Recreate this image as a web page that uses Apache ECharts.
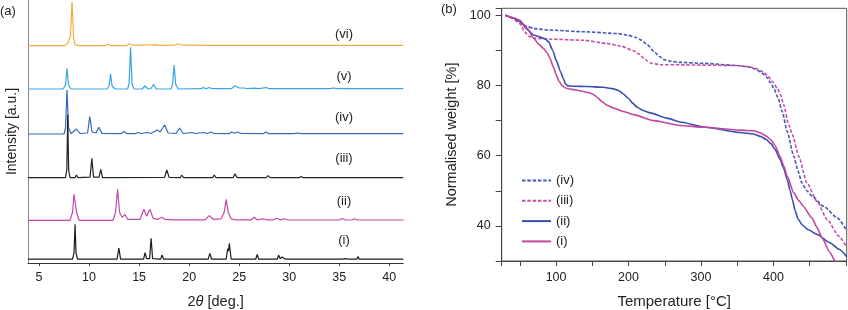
<!DOCTYPE html>
<html>
<head>
<meta charset="utf-8">
<script src="https://cdn.jsdelivr.net/npm/echarts@6.0.0/dist/echarts.min.js"></script>
<style>
html, body { margin: 0; padding: 0; background: #fff; }
#chart { width: 848px; height: 310px; }
</style>
</head>
<body>
<div id="chart"></div>
<script>
const FONT = 'Liberation Sans'

// (a) XRD patterns: [2theta, intensity above own baseline]
const xrdNames = ['(i)', '(ii)', '(iii)', '(iv)', '(v)', '(vi)']
const xrdColors = ['#1c1c1c', '#c54aa6', '#242424', '#3568c0', '#3aa3e3', '#f5ad3f']
const xrdOffsets = [3.8, 42.7, 85.3, 129, 174, 217.3]

const xrdI = [
  [3.9, 0], [8.35, 0], [8.5, 6], [8.6, 35], [8.7, 6], [8.85, 0],
  [12.8, 0], [12.98, 11], [13.15, 0], [13.55, 0], [13.7, 2], [13.85, 0],
  [15.45, 0], [15.6, 6.5], [15.75, 0.5], [16.05, 0.5], [16.2, 21], [16.35, 0.5],
  [17.15, 0], [17.3, 4.2], [17.45, 0], [18.2, 0], [18.3, 1], [18.4, 0],
  [21.9, 0], [22.07, 5.8], [22.25, 0], [23.7, 0], [23.86, 10.7], [23.93, 8], [24.02, 15.7], [24.2, 0],
  [26.65, 0], [26.8, 4.8], [26.95, 0], [27.5, 0], [27.6, 1.5], [27.7, 0],
  [28.8, 0], [28.95, 4], [29.1, 0.5], [29.3, 2.3], [29.5, 0.5], [29.65, 2], [29.8, 0],
  [30.6, 0], [30.7, 1], [30.8, 0], [31.55, 0], [31.65, 1], [31.8, 0], [32.6, 0], [32.7, 1.2], [32.8, 0],
  [35.3, 0], [35.45, 1.8], [35.6, 0.5], [35.75, 1.5], [35.9, 0], [36.75, 0], [36.88, 2.8], [37.0, 0],
  [37.8, 0], [37.95, 1.5], [38.1, 0], [38.3, 0], [38.4, 1], [38.5, 0], [38.85, 0], [38.95, 1], [39.05, 0],
  [39.8, 0], [39.9, 1], [40.0, 0], [40.8, 0], [40.9, 1], [41.0, 0], [41.4, 0]
]
const xrdII = [
  [3.9, 0], [8.1, 0], [8.35, 8], [8.5, 26], [8.6, 27], [8.75, 8], [9.0, 0],
  [12.4, 0], [12.65, 8], [12.85, 31], [13.05, 8], [13.3, 3], [13.58, 6], [13.85, 1],
  [15.1, 1], [15.48, 11], [15.75, 4], [16.08, 11], [16.4, 2], [16.9, 1], [17.25, 3], [17.6, 1],
  [18.5, 0.5], [21.6, 0.5], [22.0, 4.7], [22.4, 1], [23.2, 1.5], [23.5, 8], [23.7, 21], [23.9, 8], [24.2, 1.5], [24.6, 0.5],
  [26.2, 0.5], [26.5, 3], [26.8, 0.5], [27.4, 1.5], [27.7, 0.5], [28.4, 0.5], [28.75, 2], [29.1, 0.5], [29.5, 1.5], [29.8, 0.5],
  [35.0, 0.3], [35.3, 1.8], [35.6, 0.3], [36.3, 0.3], [36.5, 1.5], [36.8, 0.3], [41.4, 0.3]
]
const xrdIII = [
  [3.9, 0], [7.65, 0], [7.78, 8], [7.87, 63], [7.96, 8], [8.1, 0], [8.6, 0], [8.74, 2.7], [8.9, 0],
  [10.1, 0.5], [10.28, 19.3], [10.45, 0.5], [11.0, 0.5], [11.17, 8.3], [11.35, 0],
  [17.55, 0.3], [17.77, 7.7], [18.0, 0.3], [19.1, 0], [19.25, 2.5], [19.45, 0],
  [22.35, 0], [22.5, 2.7], [22.7, 0], [22.9, 0], [23.0, 1], [23.15, 0],
  [24.4, 0], [24.58, 4], [24.8, 0], [25.1, 0], [25.28, 2], [25.5, 0],
  [27.7, 0], [27.9, 2], [28.1, 0], [31.0, 0], [31.2, 1.2], [31.4, 0], [38.3, 0], [38.45, 1], [38.7, 0], [41.4, 0]
]
const xrdIV = [
  [3.9, 0], [7.5, 0], [7.65, 6], [7.8, 44], [7.95, 6], [8.2, 0.5], [8.75, 5], [9.1, 0.5],
  [9.85, 1], [10.07, 17.3], [10.3, 2], [10.7, 1], [10.97, 6.7], [11.3, 0.5],
  [13.2, 0.3], [13.5, 2.5], [13.8, 0.3], [14.6, 0.3], [14.9, 1.5], [15.2, 0.5], [15.8, 1.5], [16.2, 0.5],
  [16.8, 4], [17.1, 2], [17.55, 9], [17.9, 1], [18.7, 0.5], [19.05, 6], [19.4, 0.5],
  [20.3, 1.5], [20.6, 0.5], [21.5, 1.5], [21.8, 0.5], [22.2, 2], [22.5, 0.5],
  [24.0, 0.3], [24.25, 2], [24.55, 0.8], [24.85, 2], [25.2, 0.5], [27.4, 0.3], [27.66, 2], [28.0, 0.3],
  [30.5, 0.3], [30.8, 1], [31.2, 0.3], [41.4, 0.3]
]
const xrdV = [
  [3.9, 0], [7.4, 0], [7.65, 4], [7.8, 20.7], [7.95, 4], [8.2, 0],
  [11.8, 0], [12.0, 3], [12.15, 15], [12.3, 3], [12.6, 0],
  [13.85, 0], [14.0, 5], [14.15, 41.7], [14.3, 5], [14.5, 0],
  [15.3, 0], [15.6, 3], [15.9, 0], [16.2, 0.5], [16.45, 4.7], [16.7, 0],
  [18.2, 0], [18.35, 5], [18.5, 24], [18.65, 5], [18.9, 0],
  [21.2, 0.3], [21.4, 1.5], [21.7, 0.3], [22.0, 1.5], [22.3, 0.3],
  [24.2, 0.3], [24.6, 3.3], [25.0, 1], [25.5, 1], [25.8, 0.3], [26.5, 0.8], [27.0, 0.3],
  [27.7, 1.5], [28.0, 0.3], [34.1, 0.3], [34.4, 1], [34.8, 0.3], [41.4, 0.3]
]
const xrdVI = [
  [3.9, 0], [7.6, 0], [7.9, 3], [8.05, 4], [8.15, 10], [8.3, 44], [8.45, 8], [8.6, 1], [9.0, 0],
  [11.6, 0], [11.9, 1.5], [12.2, 0], [13.7, 0], [14.05, 2], [14.4, 0.5],
  [15.5, 0.5], [15.7, 1.2], [16.0, 0.5], [16.7, 1], [17.0, 0.3], [18.5, 0.5], [18.9, 2], [19.4, 0.5],
  [22, 0.3], [41.4, 0.3]
]
const xrdData = [xrdI, xrdII, xrdIII, xrdIV, xrdV, xrdVI]

// (b) TGA curves: [temperature, normalised weight]
const tgaNames = ['(iv)', '(iii)', '(ii)', '(i)']
const tgaColors = ['#4257b8', '#c650a8', '#3a4db3', '#c2479f']
const tgaDash = [[3.5, 1.8], [3.5, 1.8], 'solid', 'solid']

const tgaIV = [
  [30, 100], [40, 99.2], [50, 97.9], [60, 96.8], [70, 96.2], [90, 95.8], [140, 95.3], [185, 94.8],
  [200, 94.3], [210, 93.7], [218, 92.9], [226, 91.6], [235, 89.7], [243, 88.2], [250, 87.3],
  [258, 86.9], [270, 86.6], [305, 86.3], [350, 85.7], [365, 85.3], [375, 84.7], [383, 83.8],
  [390, 82.5], [396, 80.8], [401, 78.9], [406, 76.6], [412, 72.6], [419, 66.8], [428, 59.8],
  [434, 55.6], [439, 52.3], [446, 50], [453, 48.5], [469, 45.6], [488, 42.3], [501, 38.7]
]
const tgaIII = [
  [30, 100], [40, 99.2], [50, 97.6], [57, 95.2], [63, 94], [70, 93.5], [92, 93.2], [138, 92.9],
  [170, 92], [190, 91.2], [207, 89.9], [215, 88.9], [221, 87.8], [226, 87], [232, 86.3],
  [245, 85.9], [270, 85.9], [305, 85.8], [350, 85.7], [365, 85.4], [376, 84.8], [385, 84],
  [392, 82.8], [399, 81], [405, 79.3], [410, 77.2], [414, 74.5], [421, 68.8], [426, 66],
  [435, 59.8], [446, 52.3], [460, 47], [474, 41.8], [490, 37.1], [501, 34]
]
const tgaII = [
  [30, 100], [40, 99.3], [50, 98.3], [60, 96], [69, 94.4], [78, 93.8], [85, 93.3], [90, 92.4],
  [95, 90.2], [101, 86.8], [106, 84], [110, 82], [113, 80.5], [116, 79.9], [125, 79.8],
  [143, 79.7], [165, 79.5], [178, 79.1], [186, 78.6], [193, 77.6], [200, 76.3], [206, 74.9],
  [212, 73.8], [220, 72.9], [230, 72.2], [253, 70.7], [271, 69.6], [304, 68.2], [354, 66.6],
  [372, 66.2], [382, 65.5], [390, 64.6], [396, 63.5], [402, 61.9], [409, 59], [414, 56.4],
  [419, 53.2], [423, 50], [426, 47.5], [430, 44.2], [434, 41.9], [440, 40.2], [448, 38.9],
  [460, 37.6], [478, 35.2], [490, 33.4], [501, 31.2]
]
const tgaI = [
  [30, 100], [40, 99.4], [50, 98.6], [60, 96.3], [69, 93.5], [76, 91.8], [83, 90.5], [88, 89.2],
  [92, 87.6], [96, 85.4], [100, 83.2], [104, 81.3], [108, 80], [113, 79.3], [122, 78.9],
  [133, 78.5], [145, 78], [152, 77.4], [157, 76.6], [163, 75.5], [170, 74.4], [179, 73.6],
  [193, 72.6], [207, 71.7], [235, 70], [271, 68.6], [304, 68.1], [354, 67.3], [373, 67.1],
  [382, 66.5], [390, 65.6], [396, 64.6], [402, 63], [409, 59.8], [414, 57.2], [419, 54.1],
  [428, 49.4], [435, 47.2], [441, 45.6], [453, 42.3], [460, 39.6], [467, 36.6], [478, 32.4],
  [485, 30], [490, 28.6]
]
const tgaData = [tgaIV, tgaIII, tgaII, tgaI]

const chart = echarts.init(document.getElementById('chart'), null, { renderer: 'canvas' })

const series = []
// draw from top pattern down so (iii) lies over (iv)
for (let i = xrdData.length - 1; i >= 0; i--) {
  series.push({
    name: 'xrd ' + xrdNames[i],
    type: 'line',
    xAxisIndex: 0,
    yAxisIndex: 0,
    symbol: 'none',
    silent: true,
    lineStyle: { color: xrdColors[i], width: 1.2 },
    itemStyle: { color: xrdColors[i] },
    data: xrdData[i].map((p) => [p[0], p[1] + xrdOffsets[i]]),
  })
}
tgaData.forEach((d, i) => {
  series.push({
    name: tgaNames[i],
    type: 'line',
    xAxisIndex: 1,
    yAxisIndex: 1,
    symbol: 'none',
    silent: true,
    smooth: 0.2,
    smoothMonotone: 'x',
    lineStyle: { color: tgaColors[i], width: 1.6, type: tgaDash[i] },
    itemStyle: { color: tgaColors[i] },
    data: d,
  })
})

const labelText = (x, y, text, align) => ({
  type: 'text',
  x: x,
  y: y,
  silent: true,
  style: {
    text: text,
    font: '13px ' + FONT,
    fill: '#222',
    align: align || 'center',
    verticalAlign: 'middle',
    textAlign: align || 'center',
    textVerticalAlign: 'middle',
  },
})

const seriesLabelY = [240, 201.7, 158.3, 117, 76, 34]

const option = {
  animation: false,
  backgroundColor: '#fff',
  textStyle: { fontFamily: FONT },
  grid: [
    { left: 28, top: 0, width: 375.3, height: 263, outerBoundsMode: 'none', containLabel: false },
    {
      left: 501.7, top: 8.3, width: 345, height: 252.7,
      outerBoundsMode: 'none', containLabel: false,
      show: true, borderColor: '#555', borderWidth: 1,
    },
  ],
  legend: {
    data: tgaNames,
    orient: 'vertical',
    left: 516,
    top: 169,
    itemWidth: 29,
    itemHeight: 14,
    itemGap: 7.3,
    selectedMode: false,
    itemStyle: { opacity: 0 },
    textStyle: { fontSize: 13, color: '#222', fontFamily: FONT },
  },
  xAxis: [
    {
      gridIndex: 0,
      type: 'value',
      min: 3.9,
      max: 41.4,
      splitNumber: 8,
      splitLine: { show: false },
      axisLine: { lineStyle: { color: '#333', width: 1 } },
      axisTick: { length: 3, lineStyle: { color: '#333' } },
      axisLabel: {
        margin: 8,
        color: '#222',
        fontSize: 12.5,
        fontFamily: FONT,
        showMinLabel: false,
        showMaxLabel: false,
        formatter: (v) => (Math.abs(v % 5) < 1e-6 ? String(v) : ''),
      },
      name: '2{i|θ} [deg.]',
      nameLocation: 'middle',
      nameGap: 31,
      nameTextStyle: {
        fontSize: 14.5,
        color: '#222',
        fontFamily: FONT,
        rich: { i: { fontStyle: 'italic', fontSize: 14.5, fontFamily: FONT, color: '#222' } },
      },
    },
    {
      gridIndex: 1,
      type: 'value',
      min: 25,
      max: 501,
      splitNumber: 10,
      splitLine: { show: false },
      axisLine: { lineStyle: { color: '#444', width: 1 } },
      axisTick: { length: 5, lineStyle: { color: '#444' } },
      axisLabel: {
        margin: 10,
        color: '#222',
        fontSize: 12.5,
        fontFamily: FONT,
        formatter: (v) => (v % 100 === 0 && v > 0 && v < 500 ? String(v) : ''),
      },
      name: 'Temperature [°C]',
      nameLocation: 'middle',
      nameGap: 33,
      nameTextStyle: { fontSize: 15, color: '#222', fontFamily: FONT },
    },
  ],
  yAxis: [
    {
      gridIndex: 0,
      type: 'value',
      min: 0,
      max: 263,
      splitLine: { show: false },
      axisLine: { show: true, lineStyle: { color: '#888', width: 1 } },
      axisTick: { show: false },
      axisLabel: { show: false },
      name: 'Intensity [a.u.]',
      nameLocation: 'middle',
      nameGap: 9,
      nameTextStyle: { fontSize: 14, color: '#222', fontFamily: FONT },
    },
    {
      gridIndex: 1,
      type: 'value',
      min: 30,
      max: 102,
      interval: 10,
      splitLine: { show: false },
      axisLine: { show: true, lineStyle: { color: '#444', width: 1 } },
      axisTick: { length: 6, lineStyle: { color: '#444' } },
      axisLabel: {
        margin: 11,
        color: '#222',
        fontSize: 12.5,
        fontFamily: FONT,
        formatter: (v) => (v % 20 === 0 && v >= 40 && v <= 100 ? String(v) : ''),
      },
      name: 'Normalised weight [%]',
      nameLocation: 'middle',
      nameGap: 42,
      nameTextStyle: { fontSize: 14.5, color: '#222', fontFamily: FONT },
    },
  ],
  graphic: [
    labelText(0, 11, '(a)', 'left'),
    labelText(441, 9, '(b)', 'left'),
  ].concat(xrdNames.map((n, i) => labelText(344, seriesLabelY[i], n))),
  series: series,
}

chart.setOption(option)
</script>
</body>
</html>
